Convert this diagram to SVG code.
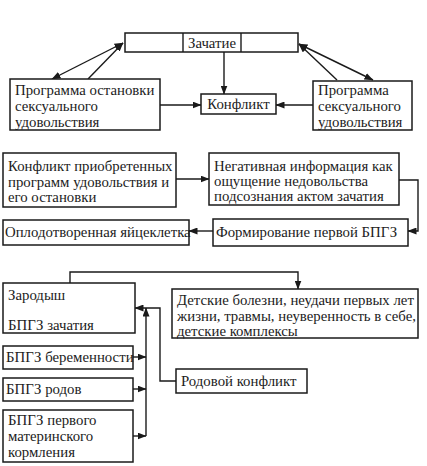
<svg xmlns="http://www.w3.org/2000/svg" width="427" height="466" viewBox="0 0 427 466">
<defs>
<style>
.b{fill:#fff;stroke:#1a1a1a;stroke-width:1.5}
.t{font-family:'Liberation Serif','DejaVu Serif',serif;font-size:14.8px;fill:#1c1c1c}
.c{fill:none;stroke:#1a1a1a;stroke-width:1.4}
</style>
<marker id="ah" markerWidth="9" markerHeight="7" refX="8.5" refY="3.5" orient="auto-start-reverse" markerUnits="userSpaceOnUse">
<path d="M0,0 L9,3.5 L0,7 Z" fill="#1a1a1a"/>
</marker>
</defs>
<rect width="427" height="466" fill="#fff"/>
<g id="connectors">
<path class="c" d="M52,79 L123,43" marker-start="url(#ah)" marker-end="url(#ah)"/>
<path class="c" d="M88,79 L123,43" marker-end="url(#ah)"/>
<path class="c" d="M337,80 L299,44" marker-end="url(#ah)"/>
<path class="c" d="M373,80 L299,44" marker-start="url(#ah)" marker-end="url(#ah)"/>
<path class="c" d="M224,52 L224,94" marker-end="url(#ah)"/>
<path class="c" d="M160,105 L201,105" marker-end="url(#ah)"/>
<path class="c" d="M313,105 L276,105" marker-end="url(#ah)"/>
<path class="c" d="M176,179 L209,179" marker-end="url(#ah)"/>
<path class="c" d="M399,180 L418,180 L418,231 L408,231" marker-end="url(#ah)"/>
<path class="c" d="M213,231 L189,231" marker-end="url(#ah)"/>
<path class="c" d="M70,283 L70,272 L298,272 L298,289" marker-end="url(#ah)"/>
<path class="c" d="M176,381 L160,381 L160,308 L135,308" marker-end="url(#ah)"/>
<path class="c" d="M146,436 L146,308" marker-end="url(#ah)"/>
<path class="c" d="M133,357 L146,357" marker-end="url(#ah)"/>
<path class="c" d="M133,389 L146,389" marker-end="url(#ah)"/>
<path class="c" d="M133,436 L146,436" marker-end="url(#ah)"/>
</g>
<g font-family="Liberation Serif, DejaVu Serif, serif">
<g id="n-zachatie">
<rect class="b" x="125" y="33" width="173" height="19"/>
<line class="c" x1="183" y1="33" x2="183" y2="52"/>
<line class="c" x1="241" y1="33" x2="241" y2="52"/>
<text class="t" x="212" y="47.5" text-anchor="middle">Зачатие</text>
</g>
<g id="n-prog-stop">
<rect class="b" x="10" y="79" width="150" height="51"/>
<text class="t" x="15" y="95">Программа остановки</text>
<text class="t" x="15" y="111">сексуального</text>
<text class="t" x="15" y="127">удовольствия</text>
</g>
<g id="n-konflikt">
<rect class="b" x="201" y="94" width="75" height="20"/>
<text class="t" x="238.5" y="109" text-anchor="middle">Конфликт</text>
</g>
<g id="n-prog">
<rect class="b" x="313" y="81" width="99" height="49"/>
<text class="t" x="318" y="95">Программа</text>
<text class="t" x="318" y="111">сексуального</text>
<text class="t" x="318" y="127">удовольствия</text>
</g>
<g id="n-konflikt-priobr">
<rect class="b" x="3" y="153" width="173" height="54"/>
<text class="t" x="8" y="171">Конфликт приобретенных</text>
<text class="t" x="8" y="187">программ удовольствия и</text>
<text class="t" x="8" y="202">его остановки</text>
</g>
<g id="n-negativ">
<rect class="b" x="209" y="153" width="190" height="52"/>
<text class="t" x="214" y="171">Негативная информация как</text>
<text class="t" x="214" y="186">ощущение недовольства</text>
<text class="t" x="214" y="201">подсознания актом зачатия</text>
</g>
<g id="n-oplod">
<rect class="b" x="3" y="220" width="186" height="25"/>
<text class="t" x="5" y="237">Оплодотворенная яйцеклетка</text>
</g>
<g id="n-formir">
<rect class="b" x="213" y="219" width="195" height="27"/>
<text class="t" x="216" y="237">Формирование первой БПГЗ</text>
</g>
<g id="n-zarodysh">
<rect class="b" x="3" y="283" width="132" height="50"/>
<text class="t" x="8" y="300">Зародыш</text>
<text class="t" x="8" y="330">БПГЗ зачатия</text>
</g>
<g id="n-detskie">
<rect class="b" x="172" y="289" width="246" height="49"/>
<text class="t" x="177" y="305">Детские болезни, неудачи первых лет</text>
<text class="t" x="177" y="321">жизни, травмы, неуверенность в себе,</text>
<text class="t" x="177" y="336">детские комплексы</text>
</g>
<g id="n-berem">
<rect class="b" x="3" y="346" width="130" height="23"/>
<text class="t" x="6" y="362">БПГЗ беременности</text>
</g>
<g id="n-rodov">
<rect class="b" x="3" y="378" width="130" height="23"/>
<text class="t" x="6" y="394">БПГЗ родов</text>
</g>
<g id="n-kormlenie">
<rect class="b" x="3" y="410" width="130" height="52"/>
<text class="t" x="8" y="425">БПГЗ первого</text>
<text class="t" x="8" y="441">материнского</text>
<text class="t" x="8" y="457">кормления</text>
</g>
<g id="n-rodovoy">
<rect class="b" x="176" y="369" width="131" height="24"/>
<text class="t" x="181" y="386">Родовой конфликт</text>
</g>
</g>
</svg>
